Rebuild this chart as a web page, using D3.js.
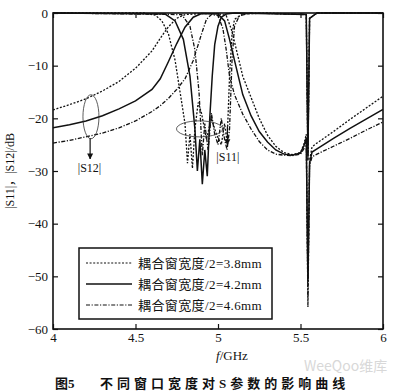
<!DOCTYPE html>
<html>
<head>
<meta charset="utf-8">
<script src="https://cdn.jsdelivr.net/npm/d3@7"></script>
<style>
  body { margin: 0; background: #fff; }
  svg { display: block; }
  .tick text { font-family: "Liberation Serif", serif; font-size: 13px; fill: #111; }
  .tick line { stroke: #111; stroke-width: 1.2; }
</style>
</head>
<body>
<div id="chart"></div>
<script>
// Series labels and ticks.
const widths = ['3.8', '4.2', '4.6'];
const xTicks = [4, 4.5, 5, 5.5, 6];
const yTicks = [0, -10, -20, -30, -40, -50, -60];

// |S12| curves (frequency in GHz, value in dB).
const s12Freq38 = [4.0, 4.1, 4.2, 4.3, 4.4, 4.5, 4.6, 4.65, 4.7, 4.75, 4.8, 4.9, 5.0, 5.05, 5.08, 5.1, 5.15, 5.2, 5.25, 5.3, 5.35, 5.4, 5.45, 5.5, 5.52, 5.535, 5.545, 5.555, 5.57, 5.6, 5.7, 5.8, 5.9, 6.0];
const s12Db38 = [-18.4, -17.4, -16.3, -14.8, -13.0, -10.5, -7.2, -4.8, -2.6, -1.0, -0.3, -0.1, -0.1, -0.5, -3, -5.5, -12, -16, -20, -23.2, -25.3, -26.5, -26.9, -26.5, -25, -23, -55.8, -28, -25.4, -24.7, -22.5, -20.2, -18, -15.8];
const s12Freq42 = [4.0, 4.1, 4.2, 4.3, 4.4, 4.5, 4.6, 4.65, 4.7, 4.75, 4.8, 4.85, 4.9, 5.0, 5.04, 5.07, 5.1, 5.15, 5.2, 5.25, 5.3, 5.35, 5.4, 5.45, 5.5, 5.52, 5.535, 5.545, 5.555, 5.57, 5.6, 5.7, 5.8, 5.9, 6.0];
const s12Db42 = [-21.8, -21.2, -20.5, -19.5, -18.2, -16.7, -14.5, -12.5, -9.2, -5.8, -2.7, -0.8, -0.1, -0.2, -1.5, -5, -9, -15.5, -19.5, -22.5, -24.5, -26, -26.8, -27, -26.6, -25.2, -23.8, -51, -28.5, -26.4, -25.8, -23.8, -21.9, -20.1, -18.3];
const s12Freq46 = [4.0, 4.1, 4.2, 4.3, 4.4, 4.5, 4.6, 4.65, 4.7, 4.75, 4.8, 4.85, 4.9, 4.93, 4.96, 5.0, 5.03, 5.05, 5.07, 5.1, 5.15, 5.2, 5.25, 5.3, 5.35, 5.4, 5.45, 5.5, 5.52, 5.535, 5.545, 5.555, 5.57, 5.6, 5.7, 5.8, 5.9, 6.0];
const s12Db46 = [-24.7, -24.2, -23.5, -22.8, -21.8, -20.5, -18.7, -17.6, -16.2, -14.5, -12.5, -9, -4, -1.2, -0.3, -0.5, -3, -7, -12, -15.5, -19.2, -22, -24.4, -26, -26.8, -27, -27.1, -26.8, -25.8, -24.5, -54, -29, -27.3, -26.8, -25.3, -23.8, -22.2, -20.7];

// |S11| curves.
const s11Freq38 = [4.0, 4.55, 4.62, 4.66, 4.7, 4.74, 4.77, 4.8, 4.815, 4.83, 4.845, 4.86, 4.88, 4.9, 4.93, 4.96, 4.99, 5.02, 5.04, 5.055, 5.07, 5.085, 5.1, 5.15, 5.3, 5.535, 5.545, 5.555, 5.6, 6.0];
const s11Db38 = [0, 0, -0.4, -1.5, -4, -9, -15, -21, -28.5, -23, -29.5, -22, -17, -19, -24, -20, -23, -25, -21, -24.5, -12, -4, -1.2, -0.2, 0, -0.3, -28, -1, 0, 0];
const s11Freq42 = [4.0, 4.68, 4.74, 4.79, 4.83, 4.86, 4.875, 4.89, 4.905, 4.92, 4.935, 4.95, 4.965, 4.98, 5.0, 5.02, 5.05, 5.1, 5.535, 5.545, 5.555, 5.6, 6.0];
const s11Db42 = [0, -0.2, -1.5, -5, -12, -22, -30, -24, -32.5, -26, -31, -20, -12, -6, -2.5, -0.8, -0.2, 0, -0.3, -27, -1, 0, 0];
const s11Freq46 = [4.0, 4.78, 4.83, 4.86, 4.885, 4.905, 4.92, 4.94, 4.96, 4.98, 5.0, 5.02, 5.04, 5.055, 5.07, 5.085, 5.1, 5.13, 5.2, 5.535, 5.545, 5.555, 5.6, 6.0];
const s11Db46 = [0, -0.3, -2.5, -7, -15, -27, -21, -26, -19, -23, -25, -20, -24, -26, -22, -9, -2.5, -0.5, 0, -0.3, -28, -1, 0, 0];

// Line style for each width (3.8 dotted, 4.2 solid, 4.6 dash-dot).
const dashes = ['2,1.6', null, '4,1.6,1.2,1.6'];

const series = [
    {w: 0, f: s12Freq38, v: s12Db38}, {w: 1, f: s12Freq42, v: s12Db42}, {w: 2, f: s12Freq46, v: s12Db46},
    {w: 0, f: s11Freq38, v: s11Db38}, {w: 1, f: s11Freq42, v: s11Db42}, {w: 2, f: s11Freq46, v: s11Db46}
];

const width = 400, height = 392;
const plot = {left: 53, right: 383, top: 13, bottom: 329};

const svg = d3.select('#chart').append('svg')
    .attr('width', width)
    .attr('height', height);

const x = d3.scaleLinear().domain([4, 6]).range([plot.left, plot.right]);
const y = d3.scaleLinear().domain([-60, 0]).range([plot.bottom, plot.top]);

// Clip the curves to the plot frame.
svg.append('clipPath').attr('id', 'clip')
    .append('rect')
    .attr('x', plot.left).attr('y', plot.top - 1)
    .attr('width', plot.right - plot.left)
    .attr('height', plot.bottom - plot.top + 1);

const line = d3.line()
    .x(function (d) { return x(d[0]); })
    .y(function (d) { return y(d[1]); });

svg.append('g').attr('clip-path', 'url(#clip)')
    .selectAll('path')
    .data(series)
    .enter()
    .append('path')
    .attr('d', function (s) { return line(s.f.map(function (f, i) { return [f, s.v[i]]; })); })
    .attr('fill', 'none')
    .attr('stroke', '#111')
    .attr('stroke-width', function (s) { return s.w === 1 ? 1.5 : 1.3; })
    .attr('stroke-dasharray', function (s) { return dashes[s.w]; });

// Axes with inward ticks.
svg.append('g').attr('transform', 'translate(' + plot.left + ',0)')
    .call(d3.axisLeft(y).tickValues(yTicks).tickSize(-5).tickPadding(5).tickFormat(d3.format('d')))
    .call(function (g) { g.select('.domain').remove(); });
svg.append('g').attr('transform', 'translate(' + plot.right + ',0)')
    .call(d3.axisRight(y).tickValues(yTicks).tickSize(-5).tickFormat(''))
    .call(function (g) { g.select('.domain').remove(); });
svg.append('g').attr('transform', 'translate(0,' + plot.bottom + ')')
    .call(d3.axisBottom(x).tickValues(xTicks).tickSize(-5).tickPadding(4).tickFormat(d3.format('')))
    .call(function (g) { g.select('.domain').remove(); });
svg.append('g').attr('transform', 'translate(0,' + plot.top + ')')
    .call(d3.axisTop(x).tickValues(xTicks).tickSize(-5).tickFormat(''))
    .call(function (g) { g.select('.domain').remove(); });

svg.append('rect')
    .attr('x', plot.left).attr('y', plot.top)
    .attr('width', plot.right - plot.left)
    .attr('height', plot.bottom - plot.top)
    .attr('fill', 'none')
    .attr('stroke', '#111')
    .attr('stroke-width', 1.6);

// Annotations: ellipses and arrows for |S12| and |S11|.
svg.append('defs').append('marker')
    .attr('id', 'arrow')
    .attr('viewBox', '0 0 10 10')
    .attr('refX', 9).attr('refY', 5)
    .attr('markerWidth', 5).attr('markerHeight', 7)
    .attr('orient', 'auto')
    .append('path')
    .attr('d', 'M0,0L10,5L0,10Z')
    .attr('fill', '#111');

const note = svg.append('g').attr('stroke', '#333').attr('fill', 'none').attr('stroke-width', 0.8);
note.append('ellipse')
    .attr('cx', x(4.23)).attr('cy', y(-19.7))
    .attr('rx', 8).attr('ry', 22);
note.append('line')
    .attr('x1', x(4.225)).attr('y1', y(-23.8))
    .attr('x2', x(4.225)).attr('y2', y(-27.7))
    .attr('stroke', '#111').attr('stroke-width', 1.2)
    .attr('marker-end', 'url(#arrow)');
note.append('ellipse')
    .attr('cx', x(4.888)).attr('cy', y(-22.0))
    .attr('rx', 23).attr('ry', 8);
note.append('line')
    .attr('x1', x(5.057)).attr('y1', y(-21.5))
    .attr('x2', x(5.057)).attr('y2', y(-25))
    .attr('stroke', '#111').attr('stroke-width', 1.2)
    .attr('marker-end', 'url(#arrow)');

svg.append('text')
    .attr('x', x(4.15)).attr('y', 172)
    .attr('font-family', 'Liberation Serif, serif').attr('font-size', 12)
    .attr('fill', '#111')
    .text('|S12|');
svg.append('text')
    .attr('x', x(4.99)).attr('y', 161)
    .attr('font-family', 'Liberation Serif, serif').attr('font-size', 12)
    .attr('fill', '#111')
    .text('|S11|');

// Axis titles.
svg.append('text')
    .attr('transform', 'translate(14,' + ((plot.top + plot.bottom) / 2) + ')rotate(-90)')
    .attr('text-anchor', 'middle')
    .attr('font-family', 'Liberation Serif, Noto Sans CJK SC, serif').attr('font-size', 12)
    .attr('fill', '#111')
    .text('|S11|，|S12|/dB');
const xTitle = svg.append('text')
    .attr('x', (plot.left + plot.right) / 2 + 14).attr('y', 360)
    .attr('text-anchor', 'middle')
    .attr('font-family', 'Liberation Serif, serif').attr('font-size', 13)
    .attr('fill', '#111');
xTitle.append('tspan').attr('font-style', 'italic').text('f');
xTitle.append('tspan').text('/GHz');

// Legend box.
const legend = svg.append('g').attr('transform', 'translate(79,248)');
legend.append('rect')
    .attr('width', 193).attr('height', 71)
    .attr('fill', '#fff')
    .attr('stroke', '#111')
    .attr('stroke-width', 1.5);
const items = legend.selectAll('g.item')
    .data(widths)
    .enter()
    .append('g')
    .attr('class', 'item')
    .attr('transform', function (d, i) { return 'translate(0,' + (15 + i * 21) + ')'; });
items.append('line')
    .attr('x1', 7).attr('x2', 53)
    .attr('stroke', '#111')
    .attr('stroke-width', function (d, i) { return i === 1 ? 1.5 : 1.2; })
    .attr('stroke-dasharray', function (d, i) { return dashes[i]; });
items.append('text')
    .attr('x', 59).attr('dy', '0.36em')
    .attr('font-family', 'Liberation Serif, Noto Sans CJK SC, serif').attr('font-size', 13)
    .attr('letter-spacing', 0.4)
    .attr('fill', '#111')
    .text(function (d) { return '耦合窗宽度/2=' + d + 'mm'; });

// Faint watermark (drawn first so the caption sits on top).
svg.append('text')
    .attr('x', 304).attr('y', 371)
    .attr('font-family', 'Noto Sans CJK SC, sans-serif').attr('font-size', 14)
    .attr('fill', '#d8d8d8')
    .text('WeeQoo维库');

// Figure caption.
svg.append('text')
    .attr('x', 55).attr('y', 388)
    .attr('font-family', 'Liberation Serif, Noto Sans CJK SC, serif').attr('font-size', 13)
    .attr('font-weight', 'bold')
    .attr('fill', '#111')
    .text('图5');
svg.append('text')
    .attr('x', 100).attr('y', 388)
    .attr('font-family', 'Liberation Serif, Noto Sans CJK SC, serif').attr('font-size', 13)
    .attr('font-weight', 'bold')
    .attr('letter-spacing', 4)
    .attr('fill', '#111')
    .text('不同窗口宽度对S参数的影响曲线');
</script>
</body>
</html>
